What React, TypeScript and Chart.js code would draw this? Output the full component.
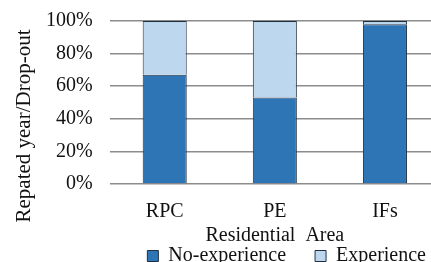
import React, { useEffect, useRef } from "react";
import { Chart, registerables } from "chart.js";

Chart.register(...registerables);

const categories = ["RPC", "PE", "IFs"];
const noExperience = [67, 53, 98];
const experience = [33, 47, 2];
const yTicks = [0, 20, 40, 60, 80, 100];
const yTitle = "Repated year/Drop-out";
const xTitle = "Residential  Area";
const seriesNames = ["No-experience", "Experience"];

const FONT = "'Liberation Serif', 'Times New Roman', serif";
const FS = 20;

// Draw the y-axis title centred on the whole figure height (as in the reference)
const yTitlePlugin = {
  id: "yTitleCentered",
  afterDraw(chart: any) {
    const ctx = chart.ctx;
    const yScale = chart.scales.y;
    ctx.save();
    ctx.font = `21px ${FONT}`;
    ctx.fillStyle = "#111";
    ctx.textAlign = "center";
    ctx.textBaseline = "middle";
    ctx.translate(yScale.left + 10, 134);
    ctx.rotate(-Math.PI / 2);
    ctx.fillText(yTitle, 0, 0);
    ctx.restore();
  },
};

export default function App() {
  const ref = useRef<HTMLCanvasElement | null>(null);
  useEffect(() => {
    if (!ref.current) return;
    const chart = new Chart(ref.current, {
      type: "bar",
      data: {
        labels: categories,
        datasets: [
          {
            label: seriesNames[0] + "     ",
            data: noExperience,
            backgroundColor: "#2E75B6",
            borderColor: "#1F2F40",
            borderWidth: 1,
            barPercentage: 0.4,
            categoryPercentage: 1,
          },
          {
            label: seriesNames[1] + "  ",
            data: experience,
            backgroundColor: "#BDD7EE",
            borderColor: "#1F2F40",
            borderWidth: 1,
            barPercentage: 0.4,
            categoryPercentage: 1,
          },
        ],
      },
      plugins: [yTitlePlugin],
      options: {
        responsive: false,
        animation: false,
        layout: { padding: { top: 0, right: 0, left: 14, bottom: 0 } },
        plugins: {
          tooltip: { enabled: false },
          legend: {
            position: "bottom",
            align: "end",
            labels: {
              font: { family: FONT, size: FS },
              color: "#111",
              boxWidth: 11,
              boxHeight: 11,
              padding: 4,
            },
          },
        },
        scales: {
          x: {
            stacked: true,
            grid: { display: false },
            border: { display: false },
            ticks: { font: { family: FONT, size: FS }, color: "#111", padding: 8 },
            title: {
              display: true,
              text: xTitle,
              font: { family: FONT, size: FS },
              color: "#111",
              padding: { top: -8, bottom: -6 },
            },
          },
          y: {
            stacked: true,
            min: 0,
            max: 100,
            afterBuildTicks: (axis: any) => {
              axis.ticks = yTicks.map((v) => ({ value: v }));
            },
            grid: { color: "#8c8c8c", lineWidth: 1.5, drawTicks: false },
            border: { display: false },
            ticks: {
              autoSkip: false,
              font: { family: FONT, size: FS },
              color: "#111",
              padding: 17,
              callback: (v: any) => v + "%",
            },
            title: {
              display: true,
              text: yTitle,
              font: { family: FONT, size: FS },
              color: "rgba(0,0,0,0)",
              padding: { top: 0, bottom: -9 },
            },
          },
        },
      },
    });
    return () => chart.destroy();
  }, []);
  return (
    <div style={{ position: "fixed", left: 0, top: 0, width: 431, height: 262, overflow: "hidden" }}>
      <canvas ref={ref} width={440} height={284} style={{ display: "block", marginTop: -8 }} />
    </div>
  );
}
